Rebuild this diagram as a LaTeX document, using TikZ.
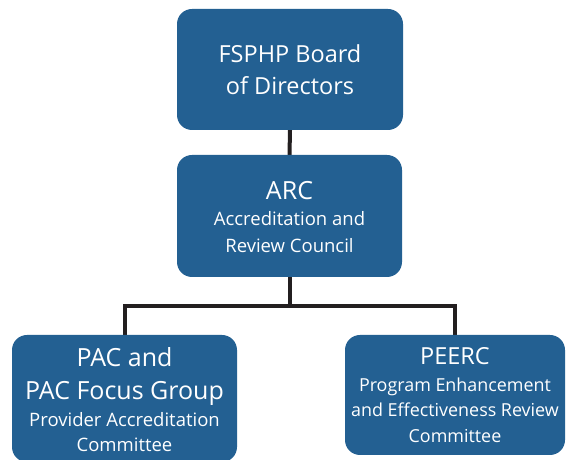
\documentclass[tikz,border=0pt]{standalone}
\usepackage{fontspec}
\setmainfont{Open Sans}
\usetikzlibrary{backgrounds}
\definecolor{boxblue}{RGB}{35,96,146}
\definecolor{linedark}{RGB}{35,31,32}
\tikzset{
  orgbox/.style={fill=boxblue, draw=none, rounded corners=15pt, inner sep=0pt},
  bigt/.style={text=white, anchor=base, inner sep=0pt, font=\fontsize{23.5}{28}\selectfont},
  biggert/.style={text=white, anchor=base, inner sep=0pt, font=\fontsize{25}{30}\selectfont},
  smallt/.style={text=white, anchor=base, inner sep=0pt, font=\fontsize{18.5}{22}\selectfont},
  smallert/.style={text=white, anchor=base, inner sep=0pt, font=\fontsize{17.9}{22}\selectfont},
  conn/.style={draw=linedark, line width=4pt, line join=miter},
}
\begin{document}
\begin{tikzpicture}[x=1pt,y=1pt]
\useasboundingbox (0,0) rectangle (566,460);
\node[orgbox, minimum width=226pt, minimum height=121pt] (top) at (290,390.5) {};
\node[orgbox, minimum width=225pt, minimum height=122pt] (arc) at (289.5,244) {};
\node[orgbox, minimum width=225pt, minimum height=127pt] (pac) at (124.5,61.5) {};
\node[orgbox, minimum width=220pt, minimum height=120pt] (peerc) at (455,65) {};
% texts
\node[bigt] (t1) at (290,397) {FSPHP Board};
\node[bigt] (t2) at (290,365) {of Directors};
\node[biggert] (a1) at (289.5,260) {ARC};
\node[smallt] (a2) at (289.5,234) {Accreditation and};
\node[smallt] (a3) at (289.5,207) {Review Council};
\node[biggert] (p1) at (124.5,93) {PAC and};
\node[biggert] (p2) at (124.5,60) {PAC Focus Group};
\node[smallt] (p3) at (124.5,33) {Provider Accreditation};
\node[smallt] (p4) at (124.5,8) {Committee};
\node[bigt] (e1) at (455,95) {PEERC};
\node[smallert] (e2) at (455,68) {Program Enhancement};
\node[smallert] (e3) at (455,43) {and Effectiveness Review};
\node[smallert] (e4) at (455,17) {Committee};
\coordinate (bus) at (arc.south |- 0,154);
\begin{scope}[on background layer]
  \draw[conn] (top.south) -- (arc.north);
  \draw[conn] (arc.south) -- (bus);
  \draw[conn] (pac.north) |- (bus) -| (peerc.north);
\end{scope}
\end{tikzpicture}
\end{document}
